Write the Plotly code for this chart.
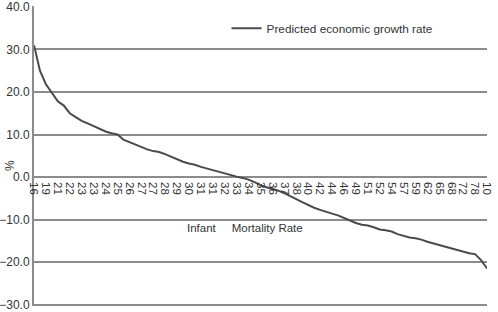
import plotly.graph_objects as go

growth = [31.0, 25.0, 21.8, 19.7, 17.8, 16.8, 15.0, 14.1, 13.2, 12.6,
          12.0, 11.4, 10.7, 10.3, 10.0, 8.8, 8.2, 7.6, 7.0, 6.5,
          6.1, 5.9, 5.4, 4.8, 4.2, 3.6, 3.2, 2.9, 2.4, 2.0,
          1.6, 1.3, 0.8, 0.4, 0.1, -0.2, -0.6, -1.2, -1.9, -2.4,
          -2.8, -3.2, -3.8, -4.6, -5.2, -5.9, -6.6, -7.2, -7.7, -8.2,
          -8.6, -9.0, -9.6, -10.3, -10.8, -11.2, -11.4, -11.8, -12.3, -12.5,
          -12.8, -13.4, -13.8, -14.2, -14.4, -14.7, -15.2, -15.6, -16.0, -16.4,
          -16.8, -17.1, -17.5, -17.9, -18.1, -19.5, -21.5]

tick_labels = ["16", "19", "21", "22", "23", "23", "24", "25", "26", "27",
               "27", "28", "29", "30", "31", "31", "32", "33", "34", "35",
               "36", "37", "38", "40", "42", "44", "46", "49", "51", "52",
               "54", "57", "59", "62", "65", "68", "72", "78", "10"]

x_idx = list(range(len(growth)))
tick_pos = x_idx[::2]

font_family = "Liberation Sans, Arial, sans-serif"
grid_col = "#8c8c8c"
txt_col = "#333333"

fig = go.Figure()
fig.add_trace(go.Scatter(
    x=x_idx, y=growth, mode="lines",
    name="Predicted economic growth rate",
    line=dict(color="#4a4a4a", width=2),
))

ymin, ymax = -30.3, 40.2
zero_pos = (0 - ymin) / (ymax - ymin)

fig.update_layout(
    width=498, height=312,
    margin=dict(l=34, r=11, t=6, b=6, autoexpand=False),
    paper_bgcolor="white", plot_bgcolor="white",
    font=dict(family=font_family, size=12, color=txt_col),
    showlegend=True,
    legend=dict(x=0.425, y=0.926, xanchor="left", yanchor="middle",
                bgcolor="rgba(0,0,0,0)", font=dict(size=11.8, color=txt_col),
                itemwidth=30),
    xaxis=dict(
        range=[0, len(growth) - 1],
        tickmode="array", tickvals=tick_pos, ticktext=tick_labels,
        tickangle=90, showgrid=False, zeroline=False,
        showline=False,
        anchor="free", position=zero_pos, automargin=False,
        ticks="", ticklabelstandoff=4,
        tickfont=dict(size=11.5, color=txt_col),
    ),
    yaxis=dict(
        range=[ymin, ymax], tickmode="array",
        tickvals=[-30, -20, -10, 0, 10, 20, 30, 40], tickformat=".1f",
        showgrid=True, gridcolor=grid_col, gridwidth=1.5,
        zeroline=True, zerolinecolor=grid_col, zerolinewidth=1.5,
        showline=True, linecolor=grid_col, linewidth=2,
        ticks="", automargin=False, ticklabeloverflow="allow",
        tickfont=dict(size=12, color=txt_col),
    ),
    annotations=[
        dict(
            text="Infant\u00a0\u00a0\u00a0\u00a0\u00a0Mortality Rate",
            xref="paper", yref="paper", x=0.466, y=0.233,
            showarrow=False, font=dict(size=11.5, color=txt_col),
        ),
        dict(
            text="%", xref="paper", yref="paper", x=-0.053, y=0.47,
            xanchor="center", yanchor="middle",
            textangle=-90, showarrow=False,
            font=dict(size=12, color=txt_col),
        ),
    ],
)

fig.write_html("out.html")
